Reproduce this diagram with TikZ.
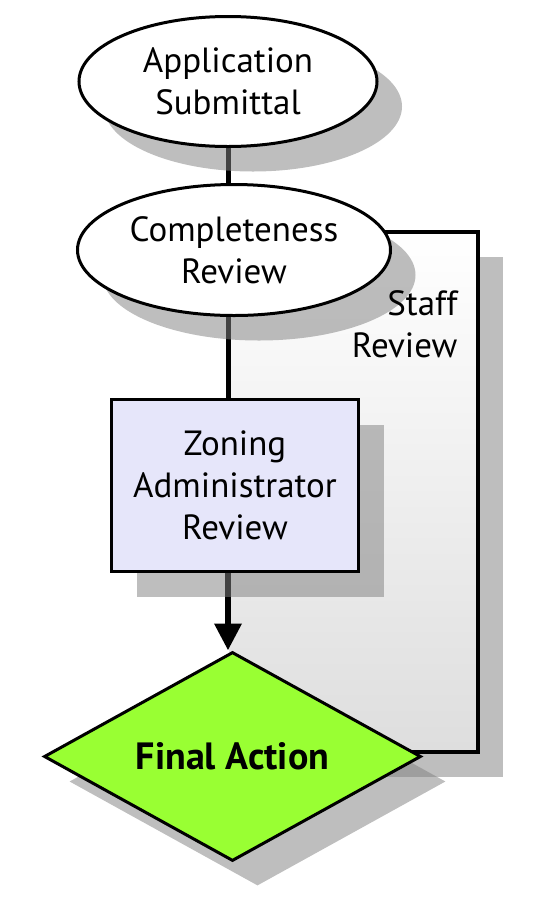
\documentclass[tikz,border=0pt]{standalone}
\usepackage{fontspec}
\setmainfont{PT Sans}
\definecolor{zaLav}{HTML}{E6E6FA}
\definecolor{faGreen}{HTML}{99FF33}
\usetikzlibrary{arrows.meta,shapes.geometric,shadows}
\pgfdeclarelayer{frame}
\pgfdeclarelayer{lines}
\pgfsetlayers{frame,lines,main}

\begin{document}
\begin{tikzpicture}[
  x=1pt,y=-1pt,
  font=\fontsize{35}{42}\selectfont,
  dropsh/.style={drop shadow={shadow xshift=25pt,shadow yshift=-25pt,fill=black!49,opacity=0.52}},
  oval/.style={ellipse,draw,line width=3pt,fill=white,inner sep=0pt,align=center,dropsh},
  zbox/.style={rectangle,draw,line width=3pt,fill=zaLav,inner sep=0pt,align=center,
    minimum width=247pt,minimum height=172pt,dropsh},
  final/.style={diamond,aspect=1.8,draw,line width=3pt,fill=faGreen,inner sep=0pt,
    minimum width=377pt,minimum height=209pt,font=\fontsize{38}{42}\selectfont\bfseries,dropsh},
  link/.style={line width=5pt}
]
\useasboundingbox (0,0) rectangle (541,914);

\node[oval,minimum width=298pt,minimum height=130pt] (app) at (228,81.5) {Application\\Submittal};
\node[oval,minimum width=313pt,minimum height=131pt] (comp) at (234,250) {Completeness\\Review};
\node[zbox] (zar) at (235,485.5) {Zoning\\Administrator\\Review};
\node[final] (fa) at (232.5,756.5) {Final Action};
\node[align=right,anchor=east] (staff) at (461,324) {Staff\\Review};

% staff review loop
\begin{pgfonlayer}{frame}
\coordinate (ftl) at (229,232);
\coordinate (fbr) at (478,752);
\fill[black!49,opacity=0.52] ([shift={(25,25)}]ftl) rectangle ([shift={(25,25)}]fbr);
\shade[top color=white,bottom color=black!13] (ftl) rectangle (fbr);
\draw[line width=3.5pt] (comp.center |- ftl) -| (fbr) -- (fa.center |- fbr);
\end{pgfonlayer}

\begin{pgfonlayer}{lines}
\draw[link] (app.south) -- (app.south |- comp.north);
\draw[link] (comp.south -| app.south) -- (app.south |- zar.north);
\draw[link,line width=6.5pt,-{Triangle[length=27pt,width=26pt]}] (zar.south -| app.south) -- (app.south |- fa.north);
\end{pgfonlayer}
\end{tikzpicture}
\end{document}
